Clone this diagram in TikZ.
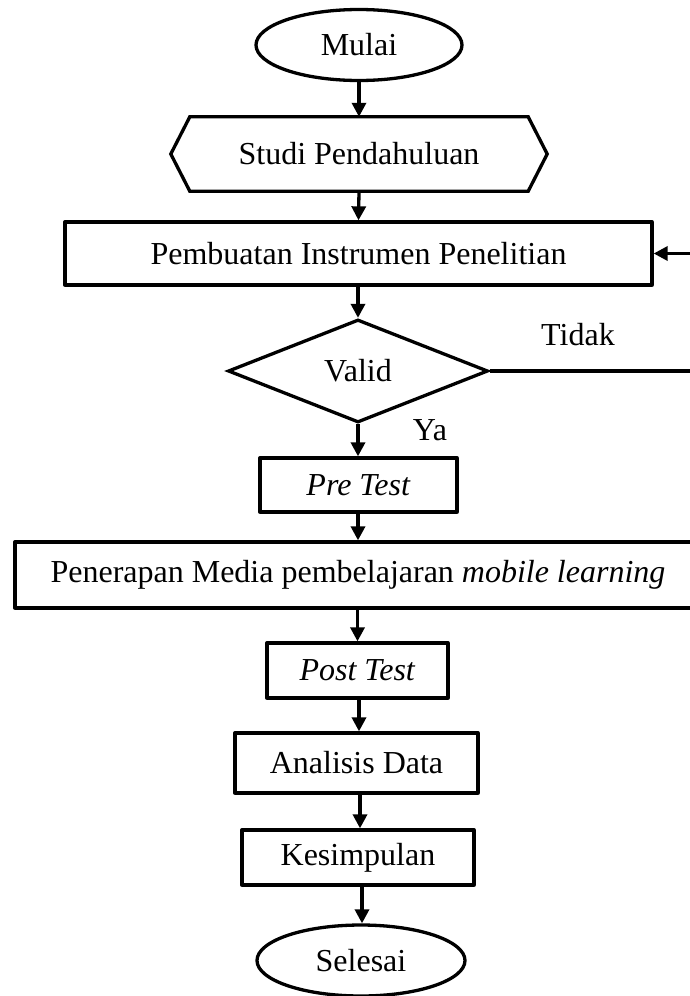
\documentclass[tikz,border=0pt]{standalone}
\usepackage{fontspec}
\setmainfont{Liberation Serif}
\usetikzlibrary{shapes.geometric,arrows.meta,calc}
\begin{document}
\begin{tikzpicture}[x=1pt,y=-1pt,
  every node/.style={font=\fontsize{32}{36}\selectfont, inner sep=0pt},
  ln/.style={line width=3.3pt},
  box/.style={draw, ln, rectangle, line join=round},
  term/.style={draw, ln, ellipse},
  arr/.style={ln, -{Triangle[length=14pt,width=14pt]}},
  lbl/.style={anchor=base}
]
\useasboundingbox (0,0) rectangle (690,996);
\node[term, minimum width=206pt, minimum height=71pt] (mulai) at (359,45) {Mulai};
\node[minimum width=376pt, minimum height=74pt] (studi) at (359,154) {Studi Pendahuluan};
\draw[ln, line join=miter] (studi.west) -- ($(studi.north west)+(19,0)$) -- ($(studi.north east)+(-19,0)$) -- (studi.east) -- ($(studi.south east)+(-19,0)$) -- ($(studi.south west)+(19,0)$) -- cycle;
\node[box, minimum width=587pt, minimum height=63pt] (buat) at (358.5,253.5) {Pembuatan Instrumen Penelitian};
\node[draw, ln, diamond, minimum width=260pt, minimum height=103pt, line join=miter] (valid) at (358,371) {\raisebox{-4pt}{Valid}};
\node[box, minimum width=197pt, minimum height=54pt] (pre) at (358.5,485) {\textit{Pre Test}};
\node[box, minimum width=686pt, minimum height=66pt] (pen) at (358,575) {Penerapan Media pembelajaran \textit{mobile learning}};
\node[box, minimum width=181pt, minimum height=55pt] (post) at (357.5,670.5) {\textit{Post Test}};
\node[box, minimum width=243pt, minimum height=60pt] (anal) at (356.5,763) {Analisis Data};
\node[box, minimum width=232pt, minimum height=55pt] (kes) at (358,857.5) {Kesimpulan};
\node[term, minimum width=208pt, minimum height=71pt] (sel) at (361,960.5) {Selesai};
\node[lbl] (tidak) at (578,345) {Tidak};
\node[lbl] (ya) at (430,440) {Ya};
\coordinate (c1) at (693,371);
\coordinate (c2) at (693,253.5);
\draw[arr] (mulai.south) -- (studi.north);
\draw[arr] (studi.south) -- (buat.north);
\draw[arr] (buat.south -| valid.north) -- (valid.north);
\draw[arr] (valid.south) -- (valid.south |- pre.north);
\draw[arr] (valid.south |- pre.south) -- (valid.south |- pen.north);
\draw[arr] (pen.south -| post.north) -- (post.north);
\draw[arr] (post.south) -- (post.south -| 359,0) -- (359,0 |- anal.north);
\draw[arr] (360,0 |- anal.south) -- (360,0 |- kes.north);
\draw[arr] (362,0 |- kes.south) -- (362,0 |- sel.north);
\draw[ln] (valid.east) -- (c1) -- (c2);
\draw[arr] (c2) -- (buat.east);
\end{tikzpicture}
\end{document}
